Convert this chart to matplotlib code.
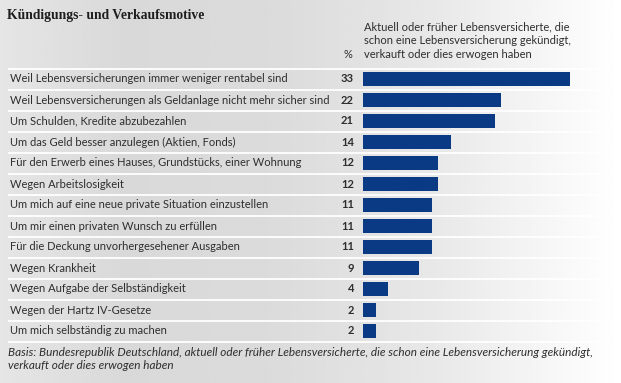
import numpy as np
import matplotlib
matplotlib.use("Agg")
import matplotlib.pyplot as plt
from matplotlib.transforms import blended_transform_factory

# data
motive = [
    "Weil Lebensversicherungen immer weniger rentabel sind",
    "Weil Lebensversicherungen als Geldanlage nicht mehr sicher sind",
    "Um Schulden, Kredite abzubezahlen",
    "Um das Geld besser anzulegen (Aktien, Fonds)",
    "Für den Erwerb eines Hauses, Grundstücks, einer Wohnung",
    "Wegen Arbeitslosigkeit",
    "Um mich auf eine neue private Situation einzustellen",
    "Um mir einen privaten Wunsch zu erfüllen",
    "Für die Deckung unvorhergesehener Ausgaben",
    "Wegen Krankheit",
    "Wegen Aufgabe der Selbständigkeit",
    "Wegen der Hartz IV-Gesetze",
    "Um mich selbständig zu machen",
]
prozent = [33, 22, 21, 14, 12, 12, 11, 11, 11, 9, 4, 2, 2]

titel = "Kündigungs- und Verkaufsmotive"
kopf = ["Aktuell oder früher Lebensversicherte, die",
        "schon eine Lebensversicherung gekündigt,",
        "verkauft oder dies erwogen haben"]
fussnote = ("Basis: Bundesrepublik Deutschland, aktuell oder früher Lebensversicherte, "
            "die schon eine Lebensversicherung gekündigt,\nverkauft oder dies erwogen haben")

W, H = 621, 383
fig = plt.figure(figsize=(W / 100, H / 100), dpi=100)

# background gradient (grey left/middle, white at right)
bg = fig.add_axes([0, 0, 1, 1])
xs = np.linspace(0, 1, 300)
level = np.interp(xs, [0, 0.2, 0.45, 0.7, 0.9, 1.0], [0.90, 0.85, 0.86, 0.91, 0.97, 1.0])
img = np.tile(level, (50, 1))
bg.imshow(img, cmap="gray", vmin=0, vmax=1, aspect="auto", extent=[0, 1, 0, 1],
          interpolation="bilinear")
bg.set_axis_off()

def fx(px):
    return px / W

def fy(py):
    return 1 - py / H

# bar axes
top, bottom = 68.5, 341.5
ax = fig.add_axes([fx(363), fy(bottom), fx(251), (bottom - top) / H])
ax.patch.set_alpha(0)
n = len(motive)
pos = np.arange(n)
ax.barh(pos, prozent, height=0.62, color="#0b3a84", zorder=3)
ax.set_xlim(0, 40)
ax.set_ylim(n - 0.5, -0.5)
ax.set_axis_off()

tr = blended_transform_factory(fig.transFigure, ax.transData)
ax.hlines(np.arange(-0.5, n), fx(8), fx(612), transform=tr, colors="white",
          linewidth=1.3, clip_on=False, zorder=2)

txt = "#2e2e2e"
for i, (m, v) in enumerate(zip(motive, prozent)):
    ax.text(fx(10), i, m, transform=tr, ha="left", va="center", fontsize=8,
            family="Lato", color=txt)
    ax.text(fx(354), i, str(v), transform=tr, ha="right", va="center", fontsize=8,
            family="Lato", weight="bold", color=txt)

fig.text(fx(7), fy(16), titel, ha="left", va="center", fontsize=9.8,
         family="Liberation Serif", weight="bold", color="#1e1e1e")

for k, line in enumerate(kopf):
    fig.text(fx(364), fy(27 + 13.5 * k), line, ha="left", va="center", fontsize=8,
             family="Lato", color=txt)
fig.text(fx(352), fy(54), "%", ha="right", va="center", fontsize=8,
         family="Lato", color=txt)

fig.text(fx(8), fy(347.5), fussnote, ha="left", va="top", fontsize=8.5,
         family="Lato", style="italic", color=txt, linespacing=1.2)

fig.savefig("out.png", dpi=100)
